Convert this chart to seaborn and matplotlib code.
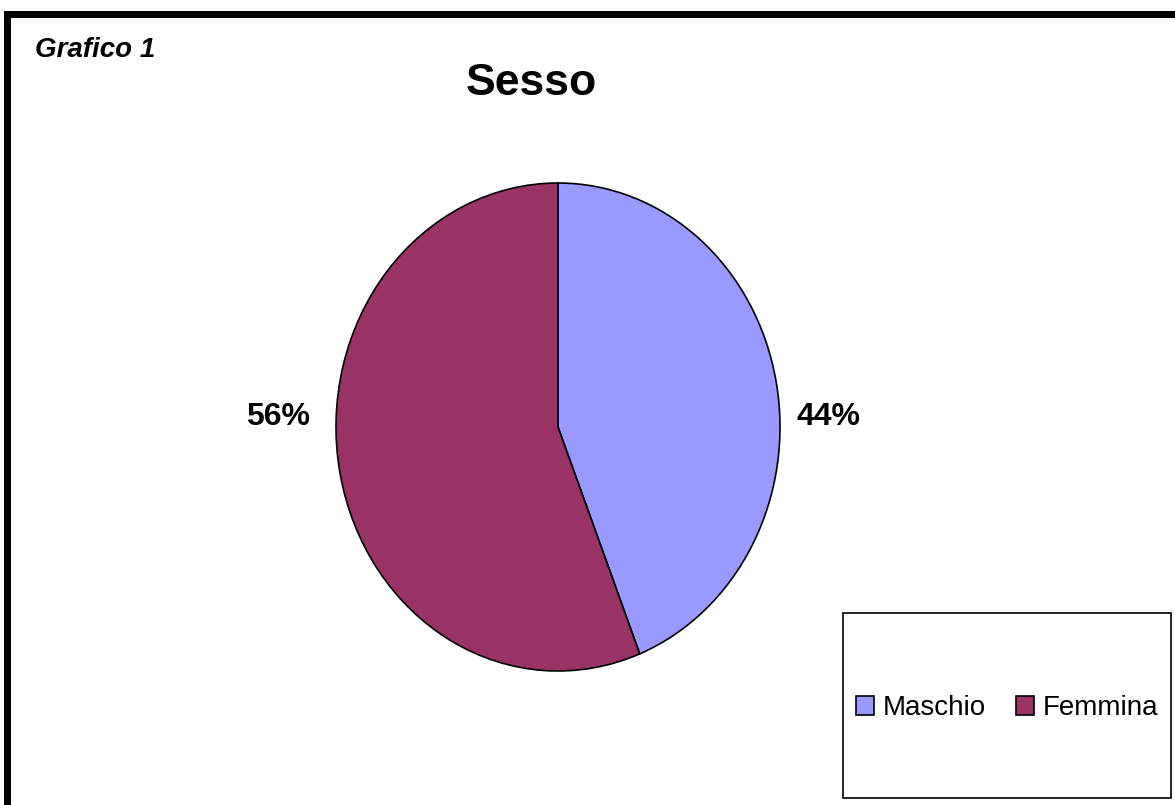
import matplotlib
matplotlib.use("Agg")
import matplotlib.pyplot as plt
import seaborn as sns
from matplotlib.patches import Rectangle

# dati
categorie = ["Maschio", "Femmina"]
percentuali = [44, 56]
colori = ["#9999FF", "#993366"]
titolo = "Sesso"
etichetta = "Grafico 1"

W, H = 1175, 805

sns.set_theme(style="white")
plt.rcParams["font.family"] = ["Liberation Sans", "DejaVu Sans"]
plt.rcParams["text.color"] = "black"


def fx(x):
    return x / W


def fy(y):
    return 1 - y / H


def box_px(fig, x0, y0, x1, y1, **kw):
    # rettangolo in pixel (origine in alto a sinistra)
    r = Rectangle((fx(x0), fy(y1)), (x1 - x0) / W, (y1 - y0) / H,
                  transform=fig.transFigure, **kw)
    fig.add_artist(r)
    return r


def grafico_sesso():
    fig = plt.figure(figsize=(W / 100, H / 100), dpi=100)
    fig.patch.set_facecolor("white")

    # torta ellittica: 444 x 488 px
    ax = fig.add_axes([fx(336), fy(671), 444 / W, 488 / H])
    wedges, _, autotexts = ax.pie(
        percentuali, colors=colori, startangle=90, counterclock=False,
        autopct="%1.0f%%", pctdistance=1.25,
        wedgeprops=dict(edgecolor="black", linewidth=1.2),
        textprops=dict(fontsize=23, fontweight="bold", color="black"),
    )
    ax.set_aspect("auto")
    ax.set_xlim(-1, 1)
    ax.set_ylim(-1, 1)
    ax.axis("off")

    # etichette percentuali sui lati, come in Excel
    for w, t in zip(wedges, autotexts):
        x, _ = t.get_position()
        t.set_position((1.22 if x > 0 else -1.26, 0.04))
        t.set_ha("center")
        t.set_va("center")

    fig.text(fx(531), fy(95), titolo, ha="center", va="baseline",
             fontsize=32, fontweight="bold", color="black")
    fig.text(fx(35), fy(57), etichetta, ha="left", va="baseline",
             fontsize=20, fontweight="bold", style="italic", color="black")

    # cornice: solo bordo superiore e sinistro
    box_px(fig, 4, 11, W, 18, facecolor="black", edgecolor="none")
    box_px(fig, 4, 11, 11, H, facecolor="black", edgecolor="none")

    # riquadro legenda
    box_px(fig, 843, 613, 1171, 798, facecolor="white", edgecolor="black",
           linewidth=1.2)
    leg = fig.legend(wedges, categorie, ncol=2, loc="center",
                     bbox_to_anchor=(fx(1007), fy(708)), frameon=False,
                     fontsize=20, handlelength=0.65, handleheight=0.65,
                     handletextpad=0.3, columnspacing=1.1, borderpad=0)
    for t in leg.get_texts():
        t.set_color("black")

    fig.savefig("out.png", dpi=100, facecolor="white")


if __name__ == "__main__":
    grafico_sesso()
